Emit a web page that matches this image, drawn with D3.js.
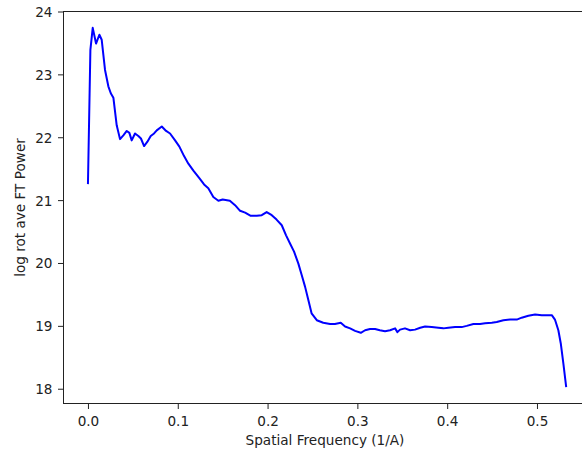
<!DOCTYPE html>
<html>
<head>
<meta charset="utf-8">
<script src="https://cdn.jsdelivr.net/npm/d3@7"></script>
<style>
html, body { margin: 0; padding: 0; background: #fff; overflow: hidden; }
svg { display: block; }
text { font-family: "DejaVu Sans", sans-serif; fill: #222; }
</style>
</head>
<body>
<svg id="chart" width="582" height="452"></svg>
<script>
const freq = [0, 0.0027, 0.0053, 0.009, 0.0127, 0.0153, 0.019, 0.0227, 0.0254, 0.0283, 0.032, 0.0357, 0.0394, 0.0432, 0.0461, 0.0487, 0.0524, 0.0561, 0.059, 0.0625, 0.0662, 0.0699, 0.0736, 0.0766, 0.0822, 0.087, 0.0914, 0.097, 0.1018, 0.107, 0.1118, 0.1174, 0.124, 0.1293, 0.134, 0.1396, 0.1452, 0.150, 0.158, 0.1638, 0.1694, 0.175, 0.1813, 0.188, 0.1935, 0.199, 0.2047, 0.210, 0.2158, 0.2206, 0.225, 0.2295, 0.2343, 0.238, 0.2418, 0.2454, 0.249, 0.2548, 0.262, 0.2696, 0.275, 0.2815, 0.2863, 0.2919, 0.2974, 0.3038, 0.3086, 0.3141, 0.3197, 0.325, 0.3308, 0.3364, 0.342, 0.3446, 0.3475, 0.353, 0.3587, 0.3642, 0.370, 0.3754, 0.3828, 0.3902, 0.3958, 0.4013, 0.4088, 0.4162, 0.4218, 0.4292, 0.4366, 0.4422, 0.4497, 0.4552, 0.4626, 0.470, 0.4775, 0.483, 0.4904, 0.4979, 0.5053, 0.5127, 0.5165, 0.520, 0.5238, 0.5265, 0.5294, 0.5324];
const power = [21.27, 23.39, 23.74, 23.49, 23.63, 23.55, 23.07, 22.81, 22.70, 22.63, 22.19, 21.97, 22.03, 22.10, 22.07, 21.95, 22.06, 22.02, 21.98, 21.86, 21.93, 22.02, 22.06, 22.11, 22.17, 22.10, 22.06, 21.95, 21.85, 21.70, 21.58, 21.47, 21.35, 21.25, 21.19, 21.05, 20.99, 21.01, 20.99, 20.92, 20.83, 20.80, 20.75, 20.75, 20.76, 20.81, 20.76, 20.69, 20.60, 20.44, 20.31, 20.18, 19.99, 19.81, 19.62, 19.41, 19.20, 19.09, 19.05, 19.03, 19.03, 19.05, 18.99, 18.96, 18.92, 18.89, 18.93, 18.95, 18.95, 18.93, 18.915, 18.93, 18.96, 18.90, 18.94, 18.96, 18.93, 18.94, 18.97, 18.99, 18.98, 18.97, 18.96, 18.97, 18.98, 18.98, 19.00, 19.03, 19.03, 19.04, 19.05, 19.06, 19.09, 19.10, 19.10, 19.13, 19.16, 19.18, 19.17, 19.17, 19.17, 19.10, 18.93, 18.72, 18.40, 18.04];
const xTicks = [0.0, 0.1, 0.2, 0.3, 0.4, 0.5];
const yTicks = [18, 19, 20, 21, 22, 23, 24];
const xLabel = "Spatial Frequency (1/A)";
const yLabel = "log rot ave FT Power";

const L = 63, R = 587, T = 11, B = 404;
const x = d3.scaleLinear().domain([-0.0278, 0.5557]).range([L, R]);
const y = d3.scaleLinear().domain([17.757, 24.008]).range([B, T]);

const svg = d3.select("#chart");
const fs = 13.6;

// line
const line = d3.line().x((d, i) => x(freq[i])).y((d, i) => y(power[i]));
svg.append("path").datum(power)
  .attr("d", line)
  .attr("fill", "none")
  .attr("stroke", "#0000ff")
  .attr("stroke-width", 2)
  .attr("stroke-linejoin", "round")
  .attr("stroke-linecap", "square");

// x axis
const xAxis = d3.axisBottom(x).tickValues(xTicks).tickFormat(d3.format(".1f")).tickSizeOuter(0).tickSize(5).tickPadding(4);
const gx = svg.append("g").attr("transform", `translate(0,${B})`).call(xAxis);
gx.select(".domain").remove();
gx.selectAll(".tick line").attr("stroke", "#222").attr("stroke-width", 1);
gx.selectAll(".tick text").attr("font-size", fs).attr("font-family", "DejaVu Sans").attr("fill", "#222").attr("dy", null).attr("y", 22);

// y axis
const yAxis = d3.axisLeft(y).tickValues(yTicks).tickFormat(d3.format("d")).tickSizeOuter(0).tickSize(5).tickPadding(5);
const gy = svg.append("g").attr("transform", `translate(${L},0)`).call(yAxis);
gy.select(".domain").remove();
gy.selectAll(".tick line").attr("stroke", "#222").attr("stroke-width", 1);
gy.selectAll(".tick text").attr("font-size", fs).attr("font-family", "DejaVu Sans").attr("fill", "#222").attr("dy", null).attr("y", 5).attr("x", -10.5);

// spines
svg.append("line").attr("x1", L).attr("x2", 582).attr("y1", T + 0.5).attr("y2", T + 0.5).attr("stroke", "#222").attr("stroke-width", 1);
svg.append("line").attr("x1", L).attr("x2", 582).attr("y1", B - 0.5).attr("y2", B - 0.5).attr("stroke", "#222").attr("stroke-width", 1);
svg.append("line").attr("x1", L + 0.5).attr("x2", L + 0.5).attr("y1", T).attr("y2", B).attr("stroke", "#222").attr("stroke-width", 1);

// labels
svg.append("text").attr("x", (L + R) / 2).attr("y", 445).attr("text-anchor", "middle").attr("font-size", fs).text(xLabel);
svg.append("text").attr("transform", `translate(25,${(T + B) / 2}) rotate(-90)`).attr("text-anchor", "middle").attr("font-size", fs).text(yLabel);
</script>
</body>
</html>
